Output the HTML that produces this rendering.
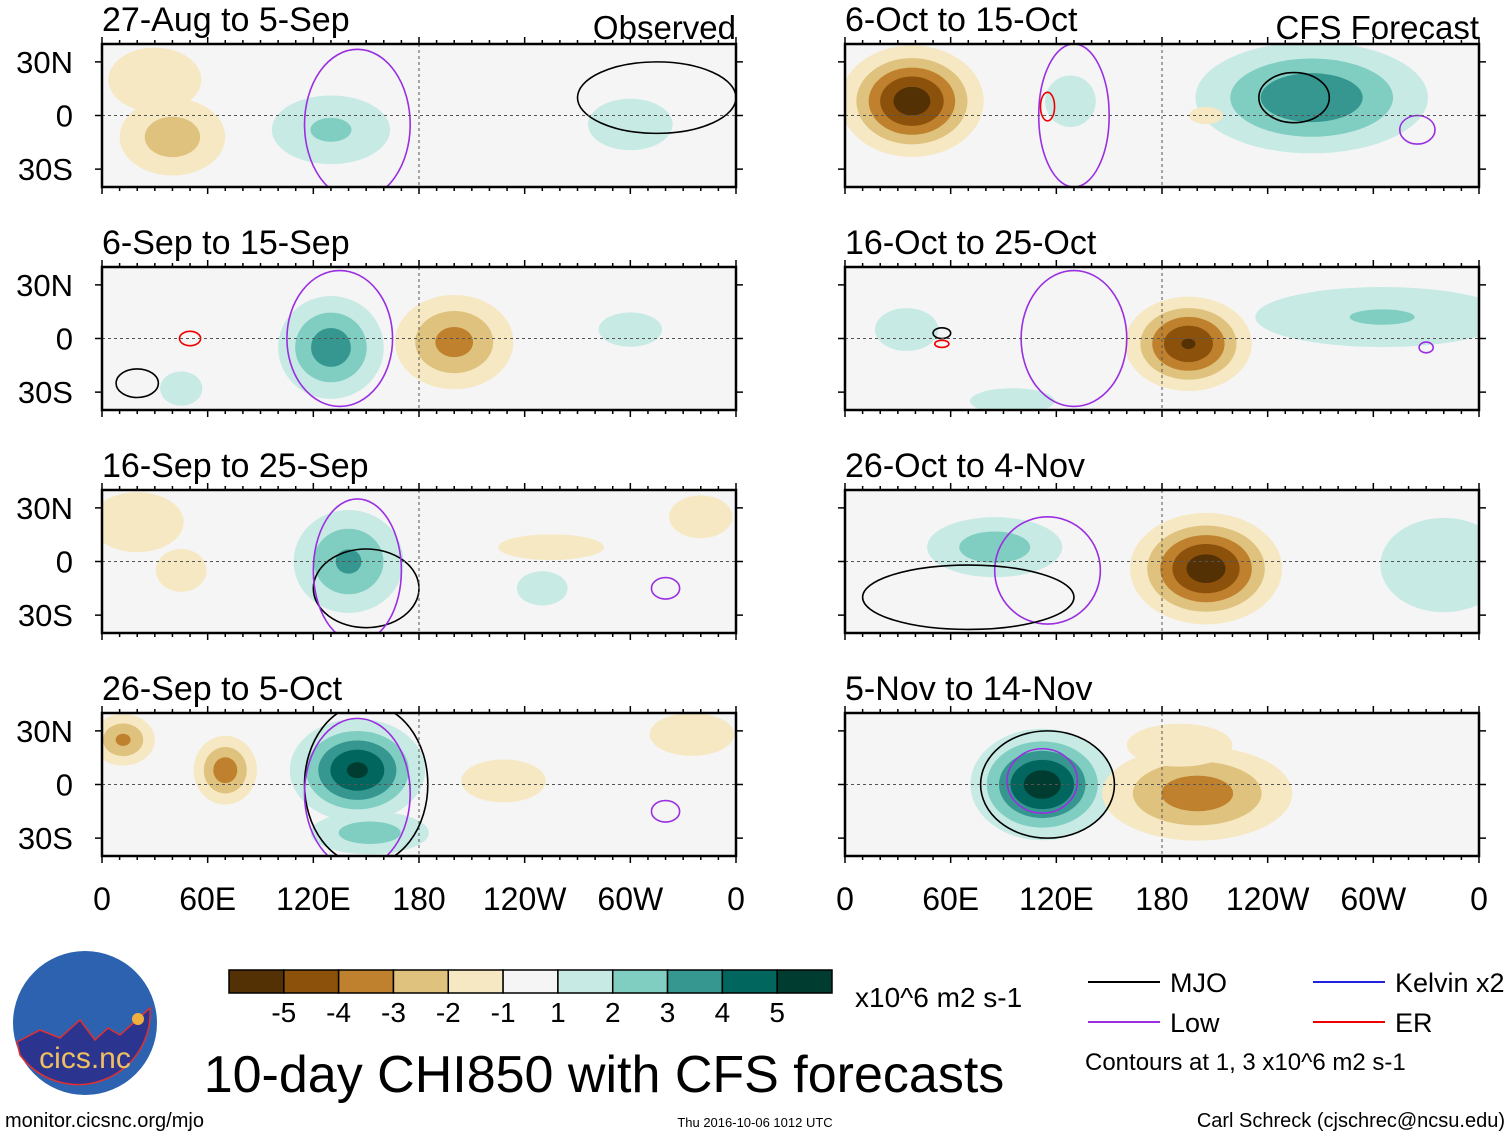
<!DOCTYPE html>
<html><head><meta charset="utf-8"><style>
body{margin:0;background:#fff;width:1510px;height:1137px;overflow:hidden}
svg{display:block;font-family:"Liberation Sans",sans-serif}
</style></head><body>
<svg id="c" width="1510" height="1137"></svg>
<script>
const panelTitles=["27-Aug to 5-Sep","6-Sep to 15-Sep","16-Sep to 25-Sep","26-Sep to 5-Oct","6-Oct to 15-Oct","16-Oct to 25-Oct","26-Oct to 4-Nov","5-Nov to 14-Nov"];
const lonTicks=[0,60,120,180,240,300,360];
const lonLabels=["0","60E","120E","180","120W","60W","0"];
const latTicks=[30,0,-30];
const latLabels=["30N","0","30S"];
const cbLevels=["-5","-4","-3","-2","-1","1","2","3","4","5"];
const cbColors=["#543005","#8c510a","#bf812d","#dfc27d","#f6e8c3","#f5f5f5","#c7eae5","#80cdc1","#35978f","#01665e","#003c30"];
// anomaly blobs per panel: [lon, lat, rxDeg, ryDeg, amplitude]
const blobs=[
 [[40,-12,25,18,-2.6],[30,20,22,15,-1.6],[130,-8,28,16,2.2],[300,-5,20,12,1.5]],
 [[130,-5,25,24,3.6],[200,-2,28,22,-3.4],[45,-28,10,8,1.4],[300,5,15,8,1.3]],
 [[140,0,26,24,3.2],[20,22,22,14,-1.6],[45,-5,12,10,-1.6],[250,-15,12,8,1.5],[255,8,25,6,-1.4],[340,25,15,10,-1.4]],
 [[145,8,32,24,5.2],[152,-27,28,10,2.6],[70,8,15,16,-3.6],[12,25,15,12,-3.2],[228,2,20,10,-1.9],[335,28,20,10,-1.6]],
 [[38,8,34,26,-5.6],[128,8,12,12,1.6],[265,10,55,26,3.9],[205,0,8,4,-1.4]],
 [[195,-3,30,22,-5.1],[305,12,60,14,2.1],[35,5,15,10,1.5],[95,-35,20,6,1.3]],
 [[205,-4,36,26,-5.6],[85,8,32,14,2.6],[340,-2,30,22,1.9]],
 [[112,0,34,26,5.6],[200,-5,45,22,-3.6],[190,22,25,10,-1.8]]
];
// contour ellipses: [lon, lat, rxDeg, ryDeg, type] type 0=MJO(black),1=Low(purple),2=ER(red)
const contours=[
 [[315,10,45,20,0],[145,-5,30,42,1]],
 [[20,-25,12,8,0],[50,0,6,4,2],[135,0,30,38,1]],
 [[150,-15,30,22,0],[145,-5,25,40,1],[320,-15,8,6,1]],
 [[150,0,35,45,0],[145,-5,30,42,1],[320,-15,8,6,1]],
 [[255,10,20,14,0],[130,0,20,40,1],[115,5,4,8,2],[325,-8,10,8,1]],
 [[55,3,5,3,0],[55,-3,4,2,2],[130,0,30,38,1],[330,-5,4,3,1]],
 [[115,-5,30,30,1],[70,-20,60,18,0]],
 [[115,0,38,30,0],[112,2,20,18,1]]
];
const svg=document.getElementById('c');
const NS='http://www.w3.org/2000/svg';
function mk(t,a,p){const e=document.createElementNS(NS,t);for(const k in a)e.setAttribute(k,a[k]);(p||svg).appendChild(e);return e;}
const colX=[102,845], W=634, H=143, rowY=[44,267,490,713];
function levelColor(v){const a=Math.abs(v);if(a<1)return cbColors[5];const i=Math.min(5,Math.floor(a))-1;return v<0?cbColors[4-i]:cbColors[6+i];}
blobs.forEach((bl,pi)=>{
 const x0=colX[pi<4?0:1], y0=rowY[pi%4];
 const xs=l=>x0+l/360*W, ys=la=>y0+(40-la)/80*H;
 const g=mk('g',{});
 
 
 const cid='clip'+pi;
 const cp=mk('clipPath',{id:cid},g);mk('rect',{x:x0,y:y0,width:W,height:H},cp);
 mk('rect',{x:x0,y:y0,width:W,height:H,fill:'#f5f5f5'},g);
 const inner=mk('g',{'clip-path':'url(#'+cid+')'},g);
 bl.forEach(b=>{
  const a=Math.abs(b[4]);
  [1,2,3,4,5].forEach(L=>{
   if(a<=L)return;
   const s=Math.sqrt(Math.log(a/L))/Math.sqrt(Math.log(a));
   const e=mk('ellipse',{cx:xs(b[0]),cy:ys(b[1]),rx:b[2]/360*W*s*1.2,ry:b[3]/80*H*s*1.2,fill:levelColor(Math.sign(b[4])*(L+0.5))},inner);
   
   
  });
 });
 contours[pi].forEach(c=>{
  const e=mk('ellipse',{cx:xs(c[0]),cy:ys(c[1]),rx:c[2]/360*W,ry:c[3]/80*H,fill:'none',stroke:['#000','#9a2ee0','#e00'][c[4]],'stroke-width':1.6},inner);
  
  
 });
 mk('line',{x1:x0,x2:x0+W,y1:ys(0),y2:ys(0),stroke:'#555','stroke-dasharray':'3,3'},g);
 mk('line',{x1:xs(180),x2:xs(180),y1:y0,y2:y0+H,stroke:'#555','stroke-dasharray':'3,3'},g);
 mk('rect',{x:x0,y:y0,width:W,height:H,fill:'none',stroke:'#000','stroke-width':2.5},g);
 for(let l=0;l<=360;l+=10){const big=l%60==0;mk('line',{x1:xs(l),x2:xs(l),y1:y0,y2:y0-(big?7:4),stroke:'#000','stroke-width':1.5},g);mk('line',{x1:xs(l),x2:xs(l),y1:y0+H,y2:y0+H+(big?7:4),stroke:'#000','stroke-width':1.5},g);}
 latTicks.forEach((la,i)=>{
  mk('line',{x1:x0,x2:x0-7,y1:ys(la),y2:ys(la),stroke:'#000','stroke-width':1.5},g);
  mk('line',{x1:x0+W,x2:x0+W+7,y1:ys(la),y2:ys(la),stroke:'#000','stroke-width':1.5},g);
  if(pi<4){const t=mk('text',{x:x0-29,y:ys(la)+11,'font-size':31,'text-anchor':'end'},g);t.textContent=latLabels[i];
   }
 });
 const t=mk('text',{x:x0,y:y0-13,'font-size':34},g);t.textContent=panelTitles[pi];
 
 if(pi%4==0){const t2=mk('text',{x:x0+W,y:y0-5,'font-size':33,'text-anchor':'end'},g);t2.textContent=pi==0?'Observed':'CFS Forecast';
  }
 if(pi%4==3){lonTicks.forEach((l,i)=>{const tt=mk('text',{x:xs(l),y:910,'font-size':32,'text-anchor':'middle'},g);tt.textContent=lonLabels[i];
  });}
});
// colorbar
const cb=mk('g',{});
const bw=603/11;
cbColors.forEach((c,i)=>mk('rect',{x:229+i*bw,y:970,width:bw,height:23,fill:c,stroke:'#000','stroke-width':1.5},cb));
cbLevels.forEach((s,i)=>{const t=mk('text',{x:229+(i+1)*bw,y:1022,'font-size':28,'text-anchor':'middle'},cb);t.textContent=s;});
const u=mk('text',{x:855,y:1007,'font-size':28},cb);u.textContent='x10^6 m2 s-1';
// legend
const lg=mk('g',{});
[[1088,982,'#000','MJO'],[1088,1022,'#9a2ee0','Low'],[1313,982,'#2020e0','Kelvin x2'],[1313,1022,'#e00','ER']].forEach(d=>{
 mk('line',{x1:d[0],x2:d[0]+72,y1:d[1],y2:d[1],stroke:d[2],'stroke-width':2},lg);
 const t=mk('text',{x:d[0]+82,y:d[1]+10,'font-size':27},lg);t.textContent=d[3];});
const ct=mk('text',{x:1085,y:1070,'font-size':24},lg);ct.textContent='Contours at 1, 3 x10^6 m2 s-1';
const ti=mk('text',{x:604,y:1092,'font-size':52,'text-anchor':'middle'});ti.textContent='10-day CHI850 with CFS forecasts';

// logo
const lo=mk('g',{});
mk('circle',{cx:85,cy:1023,r:72,fill:'#2d62b0'},lo);
mk('path',{d:'M17,1042 L40,1030 L60,1038 L80,1020 L95,1040 L108,1028 L120,1035 L150,1008 A72,72 0 0 1 20,1055 Z',fill:'#2b3590',stroke:'#e03030','stroke-width':1.5},lo);
mk('circle',{cx:138,cy:1019,r:6,fill:'#f0b040'},lo);
const lt=mk('text',{x:85,y:1068,'font-size':30,'text-anchor':'middle',fill:'#f0c060'},lo);lt.textContent='cics.nc';
const f1=mk('text',{x:5,y:1127,'font-size':20});f1.textContent='monitor.cicsnc.org/mjo';

const f2=mk('text',{x:755,y:1127,'font-size':13,'text-anchor':'middle'});f2.textContent='Thu 2016-10-06 1012 UTC';

const f3=mk('text',{x:1505,y:1127,'font-size':20,'text-anchor':'end'});f3.textContent='Carl Schreck (cjschrec@ncsu.edu)';

</script>
</body></html>
